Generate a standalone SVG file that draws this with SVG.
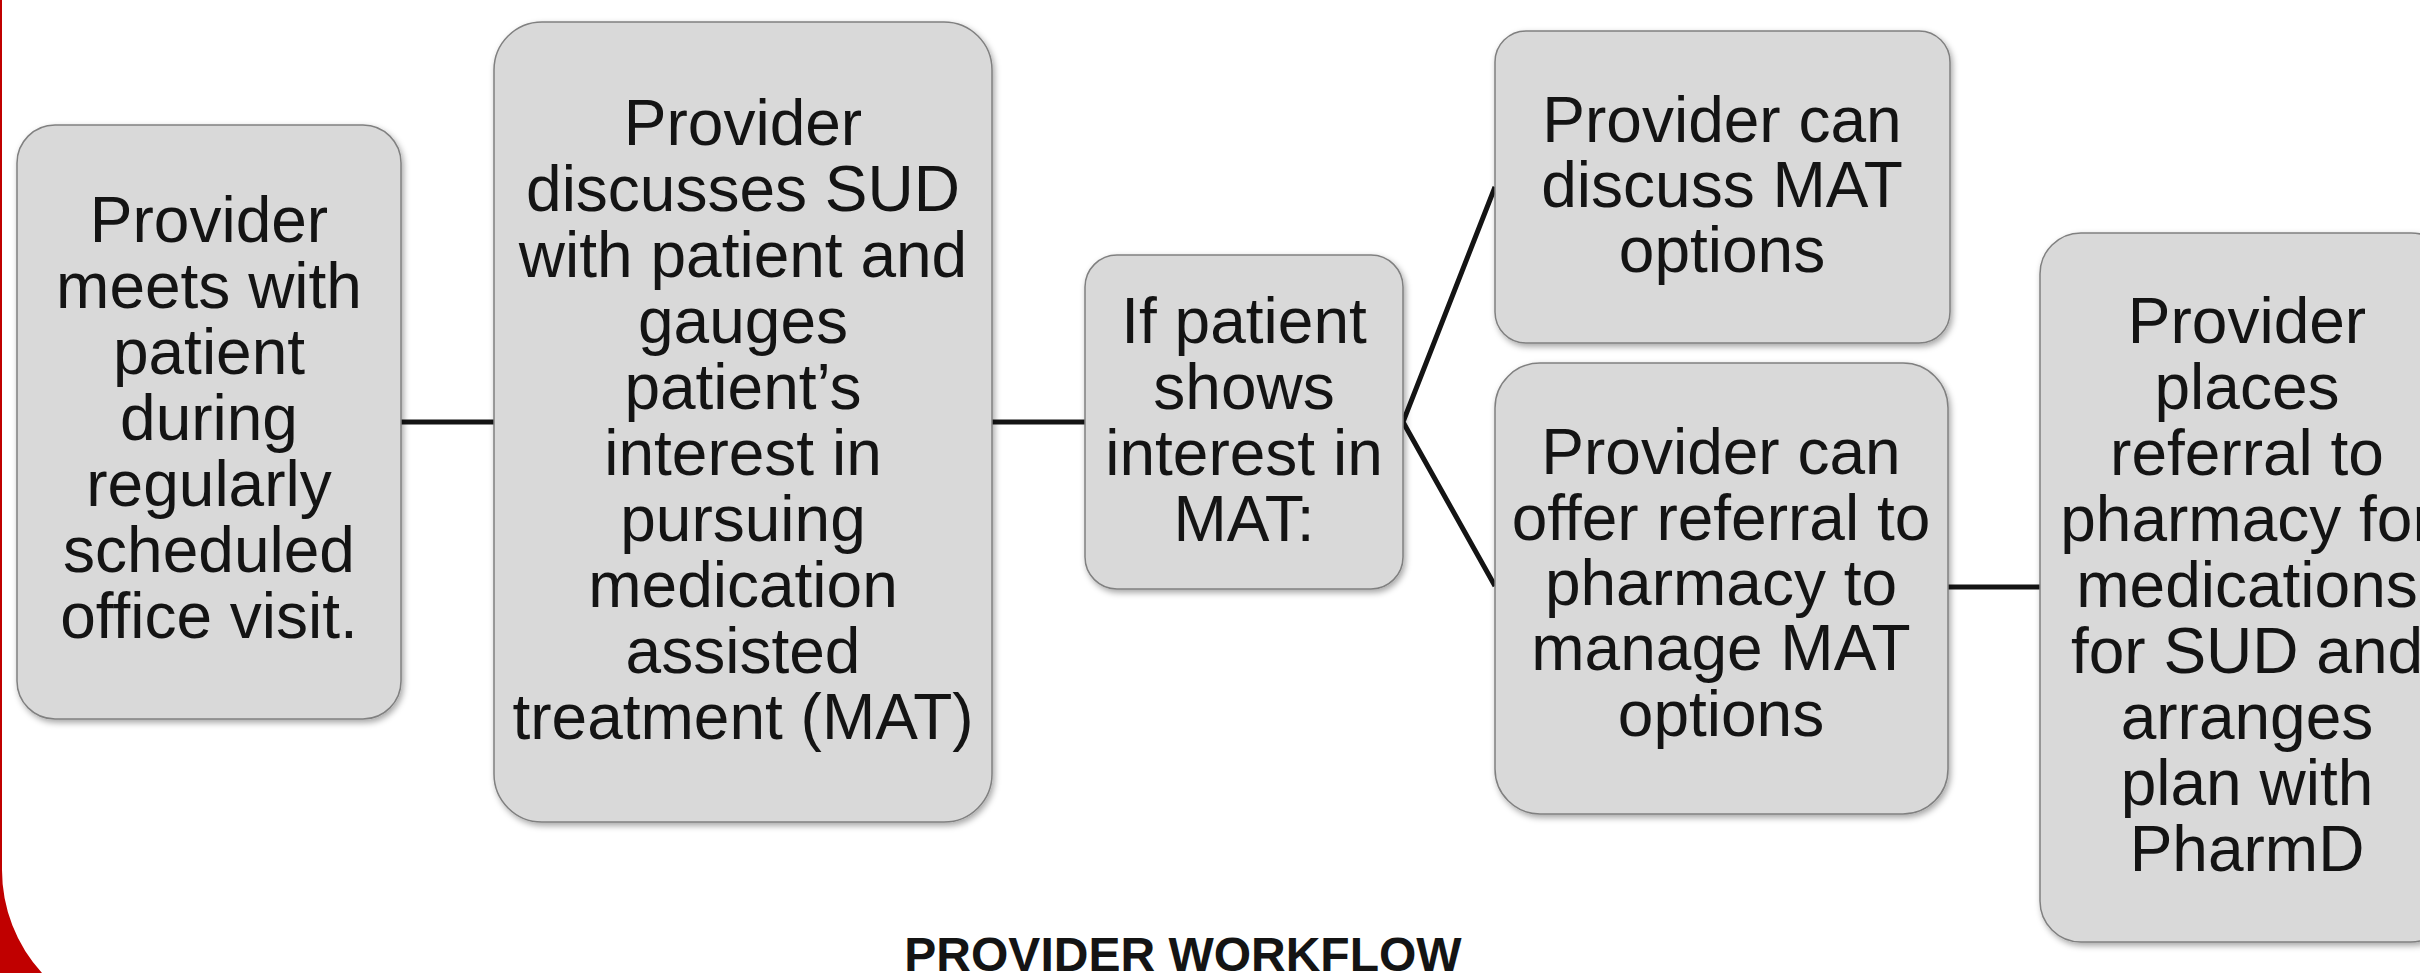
<svg xmlns="http://www.w3.org/2000/svg" width="2420" height="973" viewBox="0 0 2420 973">
<defs>
<filter id="sh" x="-10%" y="-10%" width="120%" height="120%">
<feDropShadow dx="2" dy="3" stdDeviation="3" flood-color="#000" flood-opacity="0.35"/>
</filter>
</defs>
<style>
.box{fill:#d9d9d9;stroke:#808080;stroke-width:1.5;filter:url(#sh)}
.t{font-family:"Liberation Sans",Arial,sans-serif;font-size:64px;fill:#141414;text-anchor:middle}
.c{stroke:#141414;stroke-width:5;fill:none}
.title{font-family:"Liberation Sans",Arial,sans-serif;font-size:48px;font-weight:bold;fill:#141414;text-anchor:middle}
</style>
<rect width="2420" height="973" fill="#fff"/>
<path d="M0,0 L2,0 L2,870 A152.6,152.6 0 0 0 42,973 L0,973 Z" fill="#c00000"/>
<g id="connectors">
<line class="c" x1="401" y1="422" x2="494" y2="422"/>
<line class="c" x1="992" y1="422" x2="1085" y2="422"/>
<polyline class="c" points="1495,187 1403,422 1495,586"/>
<line class="c" x1="1948" y1="587" x2="2040" y2="587"/>
</g>
<g id="n1">
<rect class="box" x="17" y="125" width="384" height="594" rx="38"/>
<text class="t"><tspan x="209" y="242">Provider</tspan><tspan x="209" y="308">meets with</tspan><tspan x="209" y="374">patient</tspan><tspan x="209" y="440">during</tspan><tspan x="209" y="506">regularly</tspan><tspan x="209" y="572">scheduled</tspan><tspan x="209" y="638">office visit.</tspan></text>
</g>
<g id="n2">
<rect class="box" x="494" y="22" width="498" height="800" rx="48"/>
<text class="t"><tspan x="743" y="145">Provider</tspan><tspan x="743" y="211">discusses SUD</tspan><tspan x="743" y="277">with patient and</tspan><tspan x="743" y="343">gauges</tspan><tspan x="743" y="409">patient’s</tspan><tspan x="743" y="475">interest in</tspan><tspan x="743" y="541">pursuing</tspan><tspan x="743" y="607">medication</tspan><tspan x="743" y="673">assisted</tspan><tspan x="743" y="739">treatment (MAT)</tspan></text>
</g>
<g id="n3">
<rect class="box" x="1085" y="255" width="318" height="334" rx="32"/>
<text class="t"><tspan x="1244" y="343">If patient</tspan><tspan x="1244" y="409">shows</tspan><tspan x="1244" y="475">interest in</tspan><tspan x="1244" y="541">MAT:</tspan></text>
</g>
<g id="n4">
<rect class="box" x="1495" y="31" width="455" height="312" rx="31"/>
<text class="t"><tspan x="1722" y="142">Provider can</tspan><tspan x="1722" y="207">discuss MAT</tspan><tspan x="1722" y="272">options</tspan></text>
</g>
<g id="n5">
<rect class="box" x="1495" y="363" width="453" height="451" rx="45"/>
<text class="t"><tspan x="1721" y="474">Provider can</tspan><tspan x="1721" y="540">offer referral to</tspan><tspan x="1721" y="605">pharmacy to</tspan><tspan x="1721" y="670">manage MAT</tspan><tspan x="1721" y="736">options</tspan></text>
</g>
<g id="n6">
<rect class="box" x="2040" y="233" width="412" height="709" rx="41"/>
<text class="t"><tspan x="2247" y="343">Provider</tspan><tspan x="2247" y="409">places</tspan><tspan x="2247" y="475">referral to</tspan><tspan x="2247" y="541">pharmacy for</tspan><tspan x="2247" y="607">medications</tspan><tspan x="2247" y="673">for SUD and</tspan><tspan x="2247" y="739">arranges</tspan><tspan x="2247" y="805">plan with</tspan><tspan x="2247" y="871">PharmD</tspan></text>
</g>
<text class="title" x="1183" y="971">PROVIDER WORKFLOW</text>
</svg>
